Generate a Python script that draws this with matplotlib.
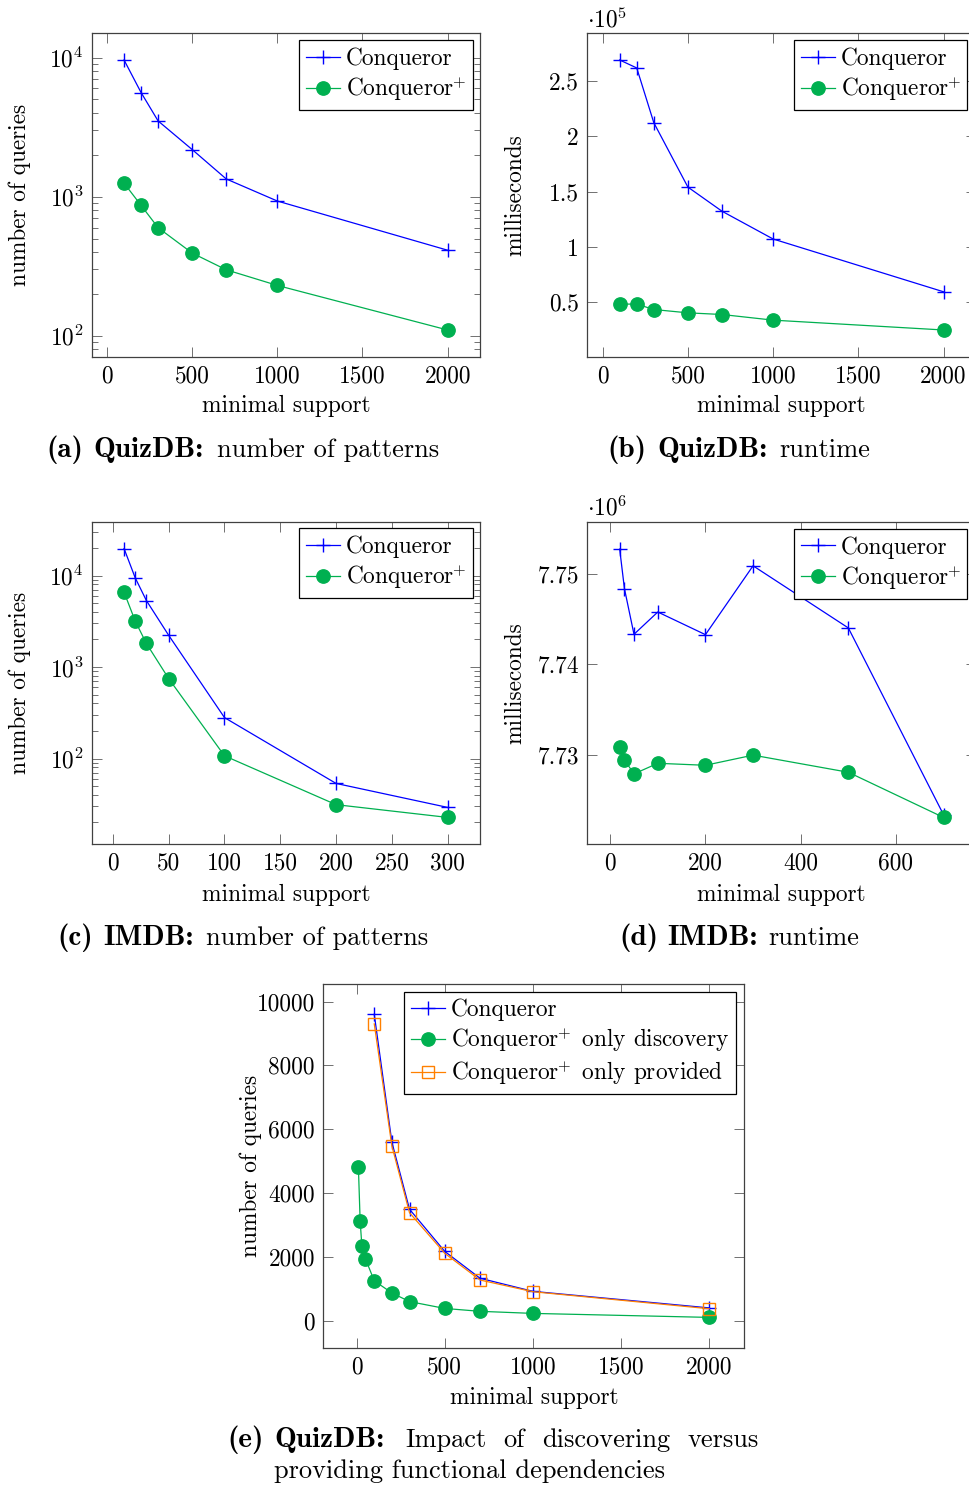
#conqueror vs conqueror+ : number of patterns and runtime
#for the quizdb and imdb datasets, plus the fd discovery comparison

import matplotlib
matplotlib.use('Agg')
import matplotlib.pyplot as plt
from matplotlib.ticker import MultipleLocator, FuncFormatter, NullFormatter

plt.rcParams['font.family'] = 'cmr10'
plt.rcParams['mathtext.fontset'] = 'cm'
plt.rcParams['axes.formatter.use_mathtext'] = True
plt.rcParams['font.size'] = 16.8

#quizdb, minimal support 100..2000
quiz_support = [100, 200, 300, 500, 700, 1000, 2000]
quiz_patterns_conq = [9600, 5600, 3500, 2180, 1340, 930, 412]
quiz_patterns_plus = [1250, 865, 598, 393, 298, 230, 110]
quiz_runtime_conq = [269000, 261800, 212400, 154200, 132400, 107300, 59600]
quiz_runtime_plus = [48500, 48500, 43600, 40600, 39100, 34000, 25100]

#imdb, number of patterns
imdb_support_pat = [10, 20, 30, 50, 100, 200, 300]
imdb_patterns_conq = [19700, 9430, 5330, 2220, 280, 53.4, 29.2]
imdb_patterns_plus = [6580, 3180, 1810, 747, 107, 31.3, 22.7]

#imdb, runtime
imdb_support_rt = [20, 30, 50, 100, 200, 300, 500, 700]
imdb_runtime_conq = [7752720, 7748350, 7743320, 7745780, 7743280, 7750880, 7744020, 7723390]
imdb_runtime_plus = [7730880, 7729450, 7727910, 7729080, 7728860, 7729980, 7728090, 7723100]

#quizdb, discovering vs providing the fds
discovery_support = [10, 20, 30, 50, 100, 200, 300, 500, 700, 1000, 2000]
discovery_patterns = [4830, 3130, 2340, 1950, 1260, 880, 610, 395, 305, 240, 115]
provided_patterns = [9300, 5480, 3390, 2120, 1285, 918, 386]

BLUE = '#0000ff'
GREEN = '#00b050'
ORANGE = '#ff8000'

PLUS = r'$\mathrm{Conqueror}^{\!\!+}$'

W, H = 969, 1485
fig = plt.figure(figsize=(W / 100, H / 100), dpi=100)


def make_axes(left, top, right, bottom):
    #pixel box -> figure fraction
    return fig.add_axes([left / W, 1 - bottom / H, (right - left) / W, (bottom - top) / H])


def style(ax, xstep, ylabel, label_x, xlabel_y=-0.117):
    ax.margins(x=0.1, y=0.1)
    ax.xaxis.set_major_locator(MultipleLocator(xstep))
    ax.xaxis.set_major_formatter(FuncFormatter(lambda v, p: '%g' % v))
    ax.tick_params(which='both', direction='in', top=True, right=True,
                   colors='0.35', labelcolor='black', width=0.6, pad=6)
    ax.tick_params(which='major', length=7)
    ax.tick_params(which='minor', length=4)
    for s in ax.spines.values():
        s.set_linewidth(0.9)
        s.set_color('0.25')
    ax.set_xlabel('minimal support')
    ax.set_ylabel(ylabel)
    ax.xaxis.set_label_coords(0.5, xlabel_y)
    ax.yaxis.set_label_coords(label_x, 0.5)


def add_legend(ax, labels_right, labels_top):
    leg = ax.legend(loc='upper right', bbox_to_anchor=(labels_right, labels_top),
                    borderaxespad=0, fancybox=False, framealpha=1, edgecolor='black',
                    handlelength=1.45, handletextpad=0.25, labelspacing=0.2,
                    borderpad=0.3, fontsize=16.8)
    leg.get_frame().set_linewidth(0.9)


plus_style = dict(color=BLUE, marker='+', markersize=10, markeredgewidth=1.0, linewidth=0.9)
dot_style = dict(color=GREEN, marker='o', markersize=9.6, linewidth=0.9)
square_style = dict(color=ORANGE, marker='s', markersize=8.5, markerfacecolor='none',
                    markeredgewidth=1.0, linewidth=0.9)

#(a) quizdb number of patterns
ax = make_axes(91.7, 33, 480, 357)
ax.plot(quiz_support, quiz_patterns_conq, label='Conqueror', **plus_style)
ax.plot(quiz_support, quiz_patterns_plus, label=PLUS, **dot_style)
ax.set_yscale('log')
ax.yaxis.set_minor_formatter(NullFormatter())
style(ax, 500, 'number of queries', -0.156)
add_legend(ax, 0.981, 0.977)

#(b) quizdb runtime
ax = make_axes(587.3, 33, 976, 357)
ax.plot(quiz_support, quiz_runtime_conq, label='Conqueror', **plus_style)
ax.plot(quiz_support, quiz_runtime_plus, label=PLUS, **dot_style)
ax.yaxis.set_major_locator(MultipleLocator(50000))
ax.yaxis.set_major_formatter(FuncFormatter(lambda v, p: '%g' % (v / 1e5)))
style(ax, 500, 'milliseconds', -0.156)
add_legend(ax, 0.978, 0.977)
fig.text(587 / W, 1 - 27 / H, r'$\cdot10^{5}$', ha='left', va='baseline')

#(c) imdb number of patterns
ax = make_axes(91.7, 521.7, 480, 844.3)
ax.plot(imdb_support_pat, imdb_patterns_conq, label='Conqueror', **plus_style)
ax.plot(imdb_support_pat, imdb_patterns_plus, label=PLUS, **dot_style)
ax.set_yscale('log')
ax.yaxis.set_minor_formatter(NullFormatter())
style(ax, 50, 'number of queries', -0.156, -0.122)
add_legend(ax, 0.981, 0.979)

#(d) imdb runtime
ax = make_axes(587.3, 522.3, 976, 844.3)
ax.plot(imdb_support_rt, imdb_runtime_conq, label='Conqueror', **plus_style)
ax.plot(imdb_support_rt, imdb_runtime_plus, label=PLUS, **dot_style)
ax.yaxis.set_major_locator(MultipleLocator(10000))
ax.yaxis.set_major_formatter(FuncFormatter(lambda v, p: '%.2f' % (v / 1e6)))
style(ax, 200, 'milliseconds', -0.156, -0.122)
add_legend(ax, 0.978, 0.979)
fig.text(587 / W, 1 - 515 / H, r'$\cdot10^{6}$', ha='left', va='baseline')

#(e) discovering vs providing
ax = make_axes(323.3, 984, 744.3, 1347.7)
ax.plot(quiz_support, quiz_patterns_conq, label='Conqueror', **plus_style)
ax.plot(discovery_support, discovery_patterns, label=PLUS + ' only discovery', **dot_style)
ax.plot(quiz_support, provided_patterns, label=PLUS + ' only provided', **square_style)
ax.yaxis.set_major_locator(MultipleLocator(2000))
ax.yaxis.set_major_formatter(FuncFormatter(lambda v, p: '%g' % v))
style(ax, 500, 'number of queries', -0.146, -0.109)
add_legend(ax, 0.98, 0.979)


#captions, each piece placed at its pixel position
def caption(parts, baseline):
    for x, txt, bold in parts:
        if bold:
            fig.text(x / W, 1 - baseline / H, txt, ha='left', va='baseline',
                     fontsize=21, family='cmb10')
        else:
            fig.text(x / W, 1 - baseline / H, txt, ha='left', va='baseline',
                     fontsize=19, family='cmr10')


caption([(46, '(a)', True), (93, 'QuizDB:', True), (217, 'number of patterns', False)], 457)
caption([(607, '(b)', True), (657, 'QuizDB:', True), (779, 'runtime', False)], 457)
caption([(57, '(c)', True), (103, 'IMDB:', True), (206, 'number of patterns', False)], 945)
caption([(619, '(d)', True), (667, 'IMDB:', True), (768, 'runtime', False)], 945)
caption([(227, '(e)', True), (274, 'QuizDB:', True), (405, 'Impact', False),
         (503, 'of', False), (542, 'discovering', False), (688, 'versus', False)], 1447)
caption([(274, 'providing functional dependencies', False)], 1478)

plt.savefig('out.png', dpi=100)
